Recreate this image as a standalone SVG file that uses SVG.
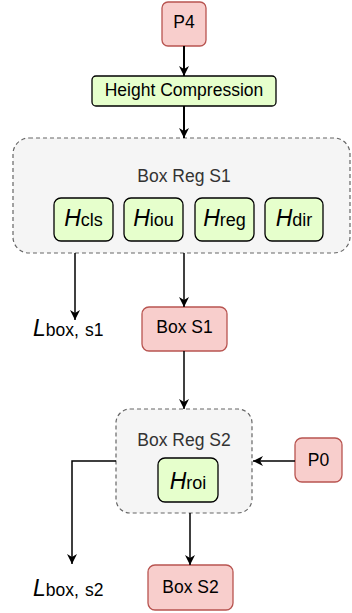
<svg xmlns="http://www.w3.org/2000/svg" width="352" height="613" viewBox="0 0 352 613">
  <style>
    text { font-family: "Liberation Sans", Arial, sans-serif; fill: #000; }
    .lbl { font-size: 17.5px; text-anchor: middle; }
    .grp-lbl { font-size: 17.5px; text-anchor: middle; fill: #333333; }
    .red { fill: #f8cecc; stroke: #b85450; stroke-width: 1.3; }
    .green { fill: #e6ffcc; stroke: #000; stroke-width: 1.3; }
    .group { fill: #f5f5f5; stroke: #666666; stroke-width: 1.2; stroke-dasharray: 4 3; }
    .head { text-anchor: middle; }
    .big { font-size: 23px; font-style: italic; }
    .sub { font-size: 18px; }
    .loss-big { font-size: 23px; font-style: italic; }
    .loss-sub { font-size: 17.5px; }
    .edge { fill: none; stroke: #000; stroke-width: 1.5; }
    .edge-thick { fill: none; stroke: #000; stroke-width: 2; }
  </style>
  <defs>
    <marker id="arrow" markerUnits="userSpaceOnUse" markerWidth="12" markerHeight="10" refX="10" refY="5" orient="auto">
      <path d="M0,0 L10,5 L0,10 L3,5 Z" fill="#000"/>
    </marker>
  </defs>

  <!-- containers -->
  <g id="box-reg-s1">
    <rect class="group" x="13" y="138" width="337" height="115" rx="16"/>
    <text class="grp-lbl" x="184" y="182">Box Reg S1</text>
  </g>
  <g id="box-reg-s2">
    <rect class="group" x="116" y="409" width="136" height="104" rx="14"/>
    <text class="grp-lbl" x="184" y="446">Box Reg S2</text>
  </g>

  <!-- nodes -->
  <g id="p4">
    <rect class="red" x="162" y="2" width="44" height="44" rx="6"/>
    <text class="lbl" x="184" y="28">P4</text>
  </g>
  <g id="height-compression">
    <rect class="green" x="92" y="76" width="184" height="30" rx="4"/>
    <text class="lbl" x="184" y="96">Height Compression</text>
  </g>
  <g id="h-cls">
    <rect class="green" x="54" y="198" width="59" height="43" rx="7"/>
    <text class="head" x="83.5" y="226"><tspan class="big">H</tspan><tspan class="sub">cls</tspan></text>
  </g>
  <g id="h-iou">
    <rect class="green" x="124" y="198" width="59" height="43" rx="7"/>
    <text class="head" x="153.5" y="226"><tspan class="big">H</tspan><tspan class="sub">iou</tspan></text>
  </g>
  <g id="h-reg">
    <rect class="green" x="195" y="198" width="59" height="43" rx="7"/>
    <text class="head" x="224.5" y="226"><tspan class="big">H</tspan><tspan class="sub">reg</tspan></text>
  </g>
  <g id="h-dir">
    <rect class="green" x="265" y="198" width="58" height="43" rx="7"/>
    <text class="head" x="294" y="226"><tspan class="big">H</tspan><tspan class="sub">dir</tspan></text>
  </g>
  <g id="box-s1">
    <rect class="red" x="142" y="307" width="85" height="44" rx="7"/>
    <text class="lbl" x="184.5" y="333">Box S1</text>
  </g>
  <g id="loss-s1">
    <text x="33" y="336"><tspan class="loss-big">L</tspan><tspan class="loss-sub">box,</tspan><tspan class="loss-sub" dx="6">s1</tspan></text>
  </g>
  <g id="h-roi">
    <rect class="green" x="158" y="458" width="60" height="44" rx="7"/>
    <text class="head" x="188" y="489"><tspan class="big">H</tspan><tspan class="sub">roi</tspan></text>
  </g>
  <g id="p0">
    <rect class="red" x="295" y="438" width="47" height="44" rx="7"/>
    <text class="lbl" x="318.5" y="466">P0</text>
  </g>
  <g id="box-s2">
    <rect class="red" x="148" y="565" width="85" height="45" rx="7"/>
    <text class="lbl" x="190.5" y="593">Box S2</text>
  </g>
  <g id="loss-s2">
    <text x="33" y="596"><tspan class="loss-big">L</tspan><tspan class="loss-sub">box,</tspan><tspan class="loss-sub" dx="6">s2</tspan></text>
  </g>

  <!-- connectors -->
  <g id="connectors">
    <path class="edge-thick" d="M184,46 V76" marker-end="url(#arrow)"/>
    <path class="edge-thick" d="M184,106 V138" marker-end="url(#arrow)"/>
    <path class="edge" d="M75,253 V320" marker-end="url(#arrow)"/>
    <path class="edge" d="M184,253 V307" marker-end="url(#arrow)"/>
    <path class="edge" d="M184,351 V409" marker-end="url(#arrow)"/>
    <path class="edge" d="M295,461 H253" marker-end="url(#arrow)"/>
    <path class="edge" d="M116,461 H72 V564" marker-end="url(#arrow)"/>
    <path class="edge" d="M190,513 V565" marker-end="url(#arrow)"/>
  </g>
</svg>
